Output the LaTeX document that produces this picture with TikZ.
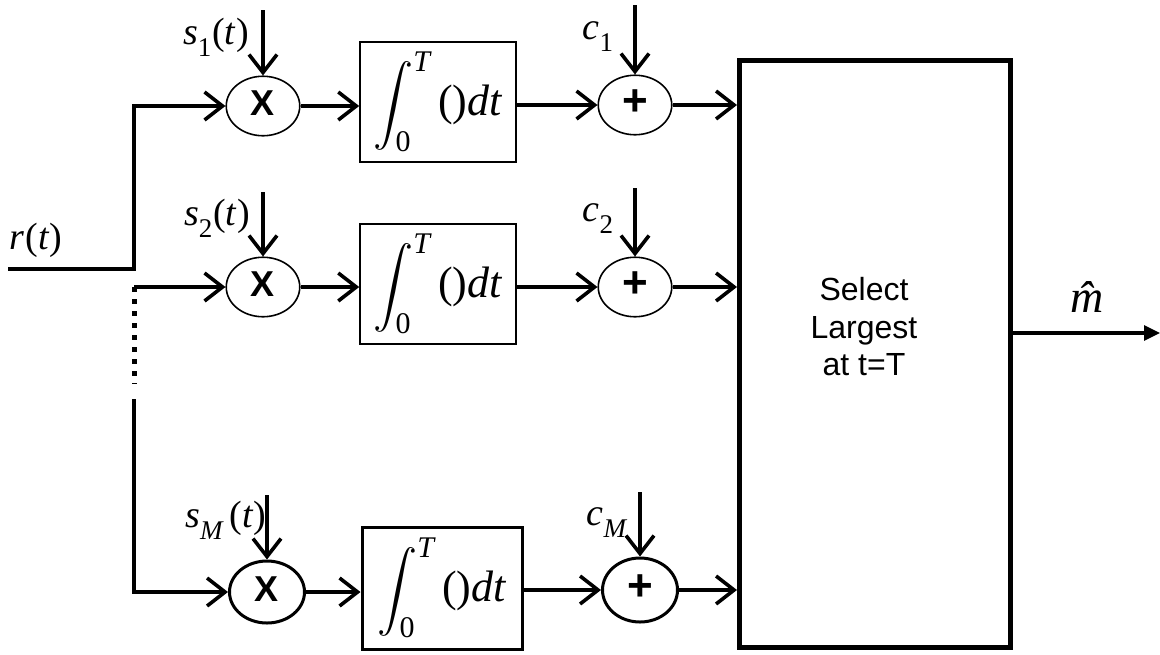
\RequirePackage{fix-cm}
\documentclass[tikz,border=0pt]{standalone}
\usepackage{amsmath,amssymb}
\usepackage[no-math]{fontspec}
\setmainfont{Liberation Sans}
\newfontfamily\tmsfont{Liberation Serif}
\newcommand{\lsub}[1]{\raisebox{-6pt}{\fontsize{13.5}{14}\selectfont #1}}
\newcommand{\integ}{{\fontsize{20}{24}\selectfont$\displaystyle\int_{\mbox{\tmsfont\fontsize{15}{15}\selectfont 0}}^{\mbox{\tmsfont\itshape\fontsize{15}{15}\selectfont T}}$}{\tmsfont\fontsize{22}{24}\selectfont\,()\textit{dt}}}
\usepackage{tikz}
\usetikzlibrary{arrows.meta, positioning, calc, shapes.geometric}

\begin{document}
\begin{tikzpicture}[x=0.5pt, y=-0.5pt,
  conn/.style={line width=1.8pt, -{Straight Barb[length=9pt,width=14pt]}},
  outarr/.style={line width=1.6pt, -{Triangle[length=8pt,width=7.5pt]}},
  dotline/.style={line width=2.5pt, dash pattern=on 2.5pt off 3.5pt},
  mult/.style={ellipse, draw, line width=0.8pt, minimum width=36.75pt, minimum height=29.75pt,
               inner sep=0pt, text height=0.9em, text depth=0pt, font=\fontsize{18}{20}\selectfont\bfseries},
  adder/.style={mult, text height=1em, font=\fontsize{22}{24}\selectfont\bfseries},
  intbox/.style={draw, line width=0.8pt, minimum width=78pt, minimum height=60pt, inner sep=0pt},
  lbl/.style={inner sep=0pt, font=\tmsfont\fontsize{19}{22}\selectfont},
  boldline/.style={line width=1.5pt}]
\useasboundingbox (0,0) rectangle (1160,654);

\node[lbl] (rt) at (36,240) {\textit{r}\kern0.5pt(\textit{t})};
\coordinate (rin) at (8,269);
\coordinate (j0) at (134,269);
\coordinate (j1) at (134,106);
\coordinate (j2) at (134,287);
\coordinate (j3) at (134,384);
\coordinate (j4) at (134,399);
\coordinate (jM) at (134,592);

\node[mult] (x1) at (263,106) {X};
\node[mult] (x2) at (263,287) {X};
\node[mult, boldline, minimum width=37.5pt, minimum height=31pt] (xM) at (267,592) {X};

\node[intbox] (i1) at (438,102) {\integ};
\node[intbox] (i2) at (438,284) {\integ};
\node[intbox, boldline, minimum width=80pt, minimum height=61pt] (iM) at (442,588) {\integ};

\node[adder] (a1) at (635,105) {+};
\node[adder] (a2) at (635,287) {+};
\node[adder, boldline, minimum width=37.5pt, minimum height=32pt] (aM) at (640,590) {+};

\node[draw, line width=2.5pt, minimum width=135.5pt, minimum height=293.5pt] (sel) at (875,354) {};
\node[align=center, font=\fontsize{16}{18.75}\selectfont] (seltxt) at (864,327) {Select\\Largest\\at t=T};

\coordinate (s1in) at (263,10);
\coordinate (s2in) at (263,192);
\coordinate (sMin) at (267,495);
\coordinate (c1in) at (635,5);
\coordinate (c2in) at (635,188);
\coordinate (cMin) at (640,492);
\node[lbl] (s1) at (216,37) {\textit{s}\lsub{1}\kern0.5pt(\textit{t})};
\node[lbl] (s2) at (217,218) {\textit{s}\lsub{2}\kern0.5pt(\textit{t})};
\node[lbl] (sM) at (226,520) {\textit{s}\lsub{\textit{M}}\kern3pt(\textit{t})};
\node[lbl] (c1) at (598,37) {\textit{c}\lsub{1}};
\node[lbl] (c2) at (598,219) {\textit{c}\lsub{2}};
\node[lbl] (cM) at (607,523) {\textit{c}\lsub{\textit{M}}};

\draw[conn] (s1in) -- (x1.north);
\draw[conn] (s2in) -- (x2.north);
\draw[conn] (sMin) -- (xM.north);
\draw[conn] (c1in) -- (a1.north);
\draw[conn] (c2in) -- (a2.north);
\draw[conn] (cMin) -- (aM.north);

\draw[conn] (rin) -- (j0) -- (j1) -- (x1.west);
\draw[conn] (j2) -- (x2.west);
\draw[dotline] (j2) -- (j3);
\draw[conn] (j4) -- (jM) -- (xM.west);

\draw[conn] (x1.east) -- (x1.east -| i1.west);
\draw[conn] (x2.east) -- (x2.east -| i2.west);
\draw[conn] (xM.east) -- (xM.east -| iM.west);
\draw[conn] (i1.east |- a1.west) -- (a1.west);
\draw[conn] (i2.east |- a2.west) -- (a2.west);
\draw[conn] (iM.east |- aM.west) -- (aM.west);
\draw[conn] (a1.east) -- (a1.east -| sel.west);
\draw[conn] (a2.east) -- (a2.east -| sel.west);
\draw[conn] (aM.east) -- (aM.east -| sel.west);

\node[font=\tmsfont\itshape\fontsize{23}{26}\selectfont] (mhat) at (1087,297) {\^{m}};
\coordinate (mout) at (1160,333);
\draw[outarr] (sel.east |- mout) -- (mout);
\end{tikzpicture}
\end{document}
